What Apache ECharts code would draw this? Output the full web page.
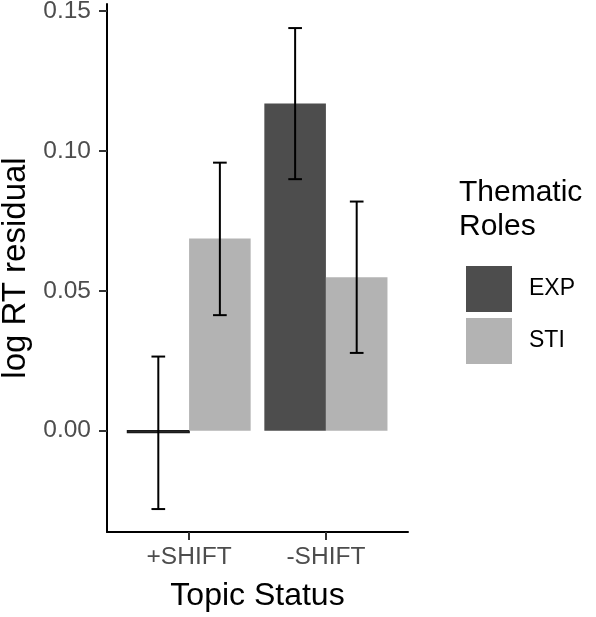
<!DOCTYPE html>
<html>
<head>
<meta charset="utf-8">
<script src="https://cdn.jsdelivr.net/npm/echarts@6/dist/echarts.min.js"></script>
<style>html,body{margin:0;padding:0;background:#fff}#c{width:596px;height:617px}</style>
</head>
<body>
<div id="c"></div>
<script>
const categories = ['+SHIFT', '-SHIFT'];
const roles = ['EXP', 'STI'];
const expMean = [-0.0006, 0.1169];
const expLower = [-0.0280, 0.0899];
const expUpper = [0.0265, 0.1439];
const stiMean = [0.0687, 0.0548];
const stiLower = [0.0413, 0.0278];
const stiUpper = [0.0958, 0.0819];
const yTicks = [0, 0.05, 0.10, 0.15];
const colors = ['#4d4d4d', '#b3b3b3'];

const chart = echarts.init(document.getElementById('c'), null, {renderer: 'canvas'});
const FONT = 'Liberation Sans, Arial, sans-serif';

function makeData(mean, lo, hi) {
  return categories.map((c, i) => [i + 1, mean[i], lo[i], hi[i]]);
}
function barRender(offset) {
  return function (params, api) {
    const x = api.value(0) + offset;
    const p1 = api.coord([x - 0.225, api.value(1)]);
    const p2 = api.coord([x + 0.225, 0]);
    const y0 = Math.min(p1[1], p2[1]);
    const h = Math.abs(p1[1] - p2[1]);
    return {
      type: 'rect',
      shape: {x: p1[0], y: y0, width: p2[0] - p1[0], height: h},
      style: {fill: api.visual('color'), stroke: h < 2 ? '#1a1a1a' : null, lineWidth: h < 2 ? 1.5 : 0}
    };
  };
}
function errRender(offset) {
  return function (params, api) {
    const x = api.value(0) + offset;
    const lo = api.coord([x, api.value(2)]);
    const hi = api.coord([x, api.value(3)]);
    const capL = api.coord([x - 0.05, 0])[0];
    const capR = api.coord([x + 0.05, 0])[0];
    const st = {stroke: '#000', lineWidth: 2};
    return {
      type: 'group',
      children: [
        {type: 'line', shape: {x1: lo[0], y1: lo[1], x2: hi[0], y2: hi[1]}, style: st},
        {type: 'line', shape: {x1: capL, y1: lo[1], x2: capR, y2: lo[1]}, style: st},
        {type: 'line', shape: {x1: capL, y1: hi[1], x2: capR, y2: hi[1]}, style: st}
      ]
    };
  };
}

const option = {
  animation: false,
  backgroundColor: '#fff',
  textStyle: {fontFamily: FONT},
  grid: {left: 107, right: 188, top: 4, bottom: 85, containLabel: false, outerBoundsMode: 'none'},
  xAxis: {
    type: 'value', min: 0.4, max: 2.6,
    name: 'Topic Status', nameLocation: 'middle', nameGap: 48,
    nameTextStyle: {fontSize: 32, color: '#000', fontFamily: FONT},
    axisLine: {show: true, onZero: false, lineStyle: {color: '#000', width: 2}},
    axisTick: {show: true, length: 8, customValues: [1, 2], lineStyle: {color: '#333', width: 2}},
    axisLabel: {customValues: [1, 2], margin: 13, fontSize: 24.5, color: '#4d4d4d', fontFamily: FONT,
      formatter: v => categories[Math.round(v) - 1] || ''},
    splitLine: {show: false}
  },
  yAxis: {
    type: 'value', min: -0.0362, max: 0.1525,
    name: 'log RT residual', nameLocation: 'middle', nameGap: 68, nameRotate: 90,
    nameTextStyle: {fontSize: 33, color: '#000', fontFamily: FONT},
    axisLine: {show: true, onZero: false, lineStyle: {color: '#000', width: 2}},
    axisTick: {show: true, length: 8, customValues: yTicks, lineStyle: {color: '#333', width: 2}},
    axisLabel: {customValues: yTicks, margin: 16, fontSize: 24.5, color: '#4d4d4d', fontFamily: FONT,
      formatter: v => v.toFixed(2)},
    splitLine: {show: false}
  },
  legend: {
    orient: 'vertical', left: 461, top: 261,
    itemWidth: 46, itemHeight: 46, itemGap: 6,
    icon: 'rect',
    data: roles,
    textStyle: {fontSize: 23, color: '#000', fontFamily: FONT, padding: [0, 0, 0, 12]},
    selectedMode: false
  },
  graphic: [{
    type: 'text', left: 459, top: 176,
    style: {text: 'Thematic\nRoles', fontSize: 30, lineHeight: 34, fill: '#000', fontFamily: FONT}
  }],
  series: [
    {name: 'EXP', type: 'custom', renderItem: barRender(-0.225), itemStyle: {color: colors[0]},
      data: makeData(expMean, expLower, expUpper), encode: {x: 0, y: [1, 2, 3]}, z: 2},
    {name: 'STI', type: 'custom', renderItem: barRender(0.225), itemStyle: {color: colors[1]},
      data: makeData(stiMean, stiLower, stiUpper), encode: {x: 0, y: [1, 2, 3]}, z: 2},
    {name: 'EXP', type: 'custom', renderItem: errRender(-0.225), itemStyle: {color: colors[0]},
      data: makeData(expMean, expLower, expUpper), encode: {x: 0, y: [1, 2, 3]}, z: 3},
    {name: 'STI', type: 'custom', renderItem: errRender(0.225), itemStyle: {color: colors[1]},
      data: makeData(stiMean, stiLower, stiUpper), encode: {x: 0, y: [1, 2, 3]}, z: 3}
  ]
};
chart.setOption(option);
</script>
</body>
</html>
